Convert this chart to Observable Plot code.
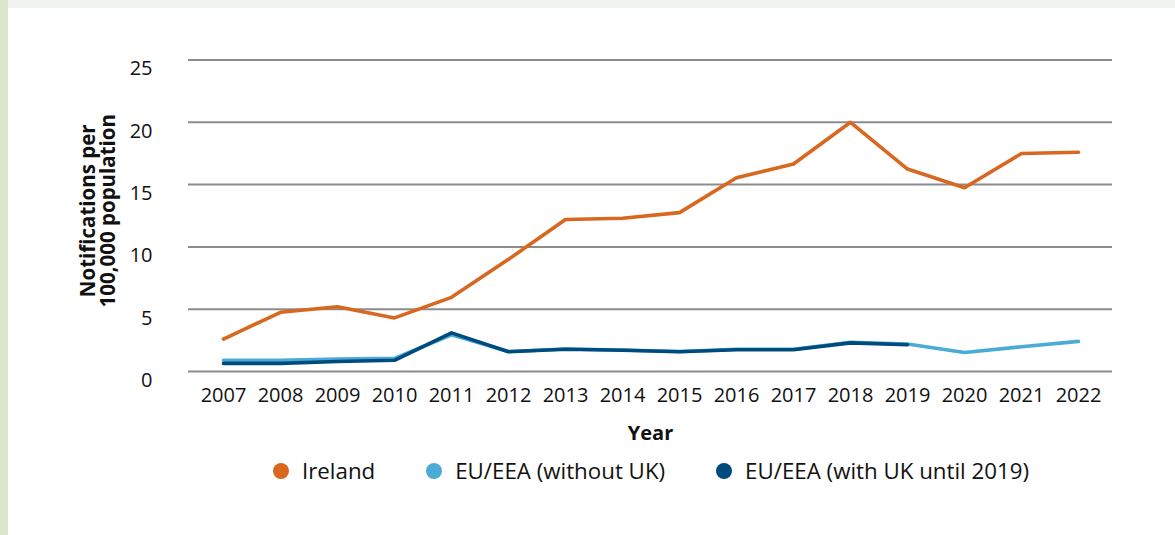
<!DOCTYPE html>
<html><head><meta charset="utf-8">
<script src="https://cdn.jsdelivr.net/npm/d3@7"></script>
<script src="https://cdn.jsdelivr.net/npm/@observablehq/plot@0.6"></script>
<style>
html,body{margin:0;padding:0;background:#fff;}
body{width:1175px;height:535px;position:relative;overflow:hidden;font-family:"Open Sans",sans-serif;}
#leftbar{position:absolute;left:0;top:0;width:8px;height:535px;background:#dde5cd;}
#topbar{position:absolute;left:8px;top:0;width:1167px;height:8px;background:#f1f4ee;}
#chart{position:absolute;left:0;top:0;}
#legend{position:absolute;left:273px;top:455px;display:flex;align-items:center;font-size:22.3px;color:#111;white-space:nowrap;}
.item{display:flex;align-items:center;margin-right:51px;}
.dot{width:16px;height:16px;border-radius:50%;margin-right:13px;flex:none;}
</style></head><body>
<div id="leftbar"></div><div id="topbar"></div>
<div id="chart"></div>
<div id="legend"></div>
<script>
const years = [2007,2008,2009,2010,2011,2012,2013,2014,2015,2016,2017,2018,2019,2020,2021,2022];
const ireland = [2.6,4.75,5.2,4.3,5.95,9.0,12.2,12.3,12.75,15.55,16.65,20.0,16.25,14.75,17.5,17.6];
const euWithoutUK = [0.9,0.9,1.0,1.05,2.95,1.6,1.8,1.72,1.6,1.78,1.78,2.35,2.2,1.52,1.98,2.42];
const euWithUK = [0.65,0.65,0.8,0.9,3.1,1.58,1.78,1.7,1.58,1.74,1.74,2.3,2.15];
const yTicks = [0,5,10,15,20,25];
const seriesNames = ["Ireland","EU/EEA (without UK)","EU/EEA (with UK until 2019)"];
const seriesColors = ["#d8671f","#4aabd5","#004b7d"];
const yTitle = "Notifications per\n100,000 population";
const xTitle = "Year";

const seriesValues = [ireland, euWithoutUK, euWithUK];
const rows = [];
seriesValues.forEach((vals, s) => vals.forEach((v, i) => rows.push({year: years[i], value: v, series: seriesNames[s]})));
const bySeries = name => rows.filter(r => r.series === name);

const chart = Plot.plot({
  width: 1175,
  height: 450,
  marginLeft: 188,
  marginRight: 63,
  marginTop: 59.5,
  marginBottom: 79,
  style: {fontFamily: "Open Sans", fontSize: "20px", background: "transparent", color: "#111"},
  x: {type: "point", domain: years, padding: 0.5},
  y: {domain: [0, 25]},
  marks: [
    Plot.gridY(yTicks, {stroke: "#8c8c8c", strokeOpacity: 1, strokeWidth: 2}),
    Plot.axisY(yTicks, {tickSize: 0, tickPadding: 36, dy: 9, label: null, fontSize: 20}),
    Plot.axisX(years, {tickSize: 0, tickPadding: 16, label: null, fontSize: 20, tickFormat: d => String(d)}),
    Plot.lineY(bySeries(seriesNames[1]), {x: "year", y: "value", stroke: seriesColors[1], strokeWidth: 3.6}),
    Plot.lineY(bySeries(seriesNames[2]), {x: "year", y: "value", stroke: seriesColors[2], strokeWidth: 3.6}),
    Plot.lineY(bySeries(seriesNames[0]), {x: "year", y: "value", stroke: seriesColors[0], strokeWidth: 3.6}),
    Plot.text([yTitle], {text: d => d, frameAnchor: "left", dx: -90, dy: -5, rotate: -90, textAnchor: "middle", lineAnchor: "middle", fontWeight: "bold", fontSize: 20.5, lineHeight: 1}),
    Plot.text([xTitle], {text: d => d, frameAnchor: "bottom", dy: 62, textAnchor: "middle", lineAnchor: "middle", fontWeight: "bold", fontSize: 20})
  ]
});
document.getElementById("chart").appendChild(chart);

const legend = document.getElementById("legend");
seriesNames.forEach((name, i) => {
  const item = document.createElement("div");
  item.className = "item";
  const dot = document.createElement("span");
  dot.className = "dot";
  dot.style.background = seriesColors[i];
  const label = document.createElement("span");
  label.textContent = name;
  item.appendChild(dot);
  item.appendChild(label);
  legend.appendChild(item);
});
</script>
</body></html>
